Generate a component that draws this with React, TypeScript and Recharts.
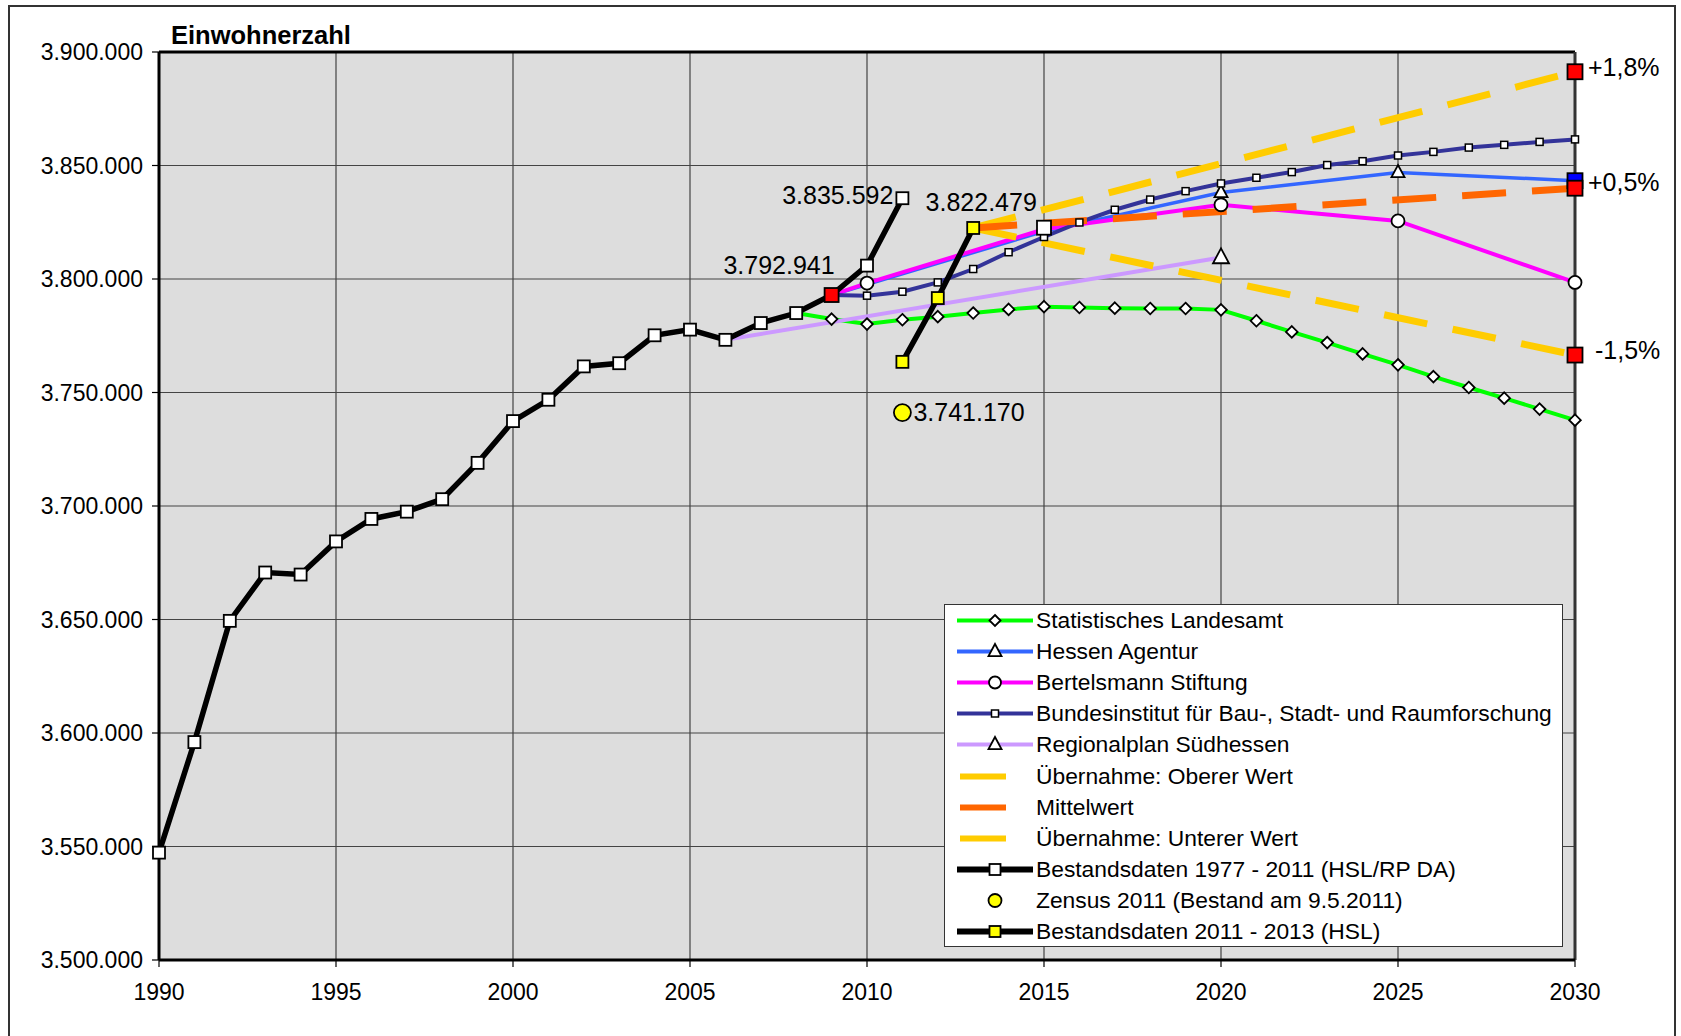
import React from "react"
import { LineChart, Line, XAxis, YAxis, CartesianGrid, ReferenceLine, Legend } from "recharts"

// Bestandsdaten 1977 - 2011 (HSL/RP DA), with the isolated 2015 square
const bestandYears = [1990, 1991, 1992, 1993, 1994, 1995, 1996, 1997, 1998, 1999, 2000, 2001, 2002, 2003, 2004, 2005, 2006, 2007, 2008, 2009, 2010, 2011, 2012, 2013, 2014, 2015]
const bestandValues = [3547300, 3596000, 3649400, 3670700, 3669800, 3684400, 3694300, 3697500, 3703000, 3719000, 3737400, 3746800, 3761500, 3762900, 3775200, 3777700, 3773200, 3780600, 3785000, 3792941, 3805900, 3835592, null, null, null, 3822600]

// Bestandsdaten 2011 - 2013 (HSL)
const hslYears = [2011, 2012, 2013]
const hslValues = [3763500, 3791600, 3822479]

// Zensus 2011
const zensusYears = [2011]
const zensusValues = [3741170]

// Statistisches Landesamt
const slYears = [2008, 2009, 2010, 2011, 2012, 2013, 2014, 2015, 2016, 2017, 2018, 2019, 2020, 2021, 2022, 2023, 2024, 2025, 2026, 2027, 2028, 2029, 2030]
const slValues = [3785000, 3782350, 3780150, 3782060, 3783400, 3785000, 3786600, 3787800, 3787450, 3787150, 3787000, 3787000, 3786400, 3781600, 3776700, 3772000, 3767000, 3762200, 3757000, 3752200, 3747500, 3742700, 3737800]

// Hessen Agentur
const haYears = [2009, 2015, 2020, 2025, 2030]
const haValues = [3792941, 3821000, 3838100, 3846900, 3843300]

// Bertelsmann Stiftung
const bsYears = [2009, 2010, 2015, 2020, 2025, 2030]
const bsValues = [3792941, 3798200, 3821900, 3832700, 3825600, 3798500]

// Bundesinstitut für Bau-, Stadt- und Raumforschung
const bbsrYears = [2009, 2010, 2011, 2012, 2013, 2014, 2015, 2016, 2017, 2018, 2019, 2020, 2021, 2022, 2023, 2024, 2025, 2026, 2027, 2028, 2029, 2030]
const bbsrValues = [3792941, 3792650, 3794400, 3798500, 3804400, 3811800, 3818500, 3824900, 3830500, 3835000, 3838700, 3842100, 3844600, 3847100, 3850200, 3851900, 3854400, 3856000, 3857900, 3859100, 3860400, 3861500]

// Regionalplan Südhessen
const rpYears = [2006, 2020]
const rpValues = [3773200, 3809500]

// Übernahme / Mittelwert
const trendYears = [2013, 2030]
const upperValues = [3822479, 3891300]
const meanValues = [3822479, 3840000]
const lowerValues = [3822479, 3766500]
const trendLabels = ["+1,8%", "+0,5%", "-1,5%"]

const xTicks = [1990, 1995, 2000, 2005, 2010, 2015, 2020, 2025, 2030]
const yTicks = [3500000, 3550000, 3600000, 3650000, 3700000, 3750000, 3800000, 3850000, 3900000]

const FONT = '"Liberation Sans", Arial, Helvetica, sans-serif'
const GREEN = "#00ff00"
const BLUE = "#3366ff"
const PINK = "#ff00ff"
const NAVY = "#333399"
const LILAC = "#cc99ff"
const GOLD = "#ffcc00"
const ORANGE = "#ff6600"

const rows = (years: number[], values: (number | null)[]) =>
  years.map((year, i) => ({ year, value: values[i] }))

const fmt = (v: number) => String(v).replace(/\B(?=(\d{3})+(?!\d))/g, ".")

// marker shapes
const square = (cx: number, cy: number, size: number, fill: string, sw = 1.8) => (
  <rect x={cx - size / 2} y={cy - size / 2} width={size} height={size} fill={fill} stroke="#000" strokeWidth={sw} />
)
const diamond = (cx: number, cy: number, h: number) => (
  <polygon points={`${cx},${cy - h} ${cx + h},${cy} ${cx},${cy + h} ${cx - h},${cy}`} fill="#fff" stroke="#000" strokeWidth={1.8} />
)
const triangle = (cx: number, cy: number, h: number) => (
  <polygon points={`${cx},${cy - h} ${cx + h},${cy + h * 0.85} ${cx - h},${cy + h * 0.85}`} fill="#fff" stroke="#000" strokeWidth={1.8} />
)
const circle = (cx: number, cy: number, r: number, fill = "#fff") => (
  <circle cx={cx} cy={cy} r={r} fill={fill} stroke="#000" strokeWidth={1.8} />
)
const note = (x: number, y: number, text: string, anchor: string, size = 25) => (
  <text x={x} y={y} dy="0.35em" textAnchor={anchor} fontSize={size} fontFamily={FONT} fill="#000">{text}</text>
)

// builds a dot renderer from a per-point drawing function
const dots = (draw: (cx: number, cy: number, p: any) => React.ReactNode) => (props: any) => {
  const { cx, cy, index, payload } = props
  if (cx == null || cy == null || payload == null || payload.value == null)
    return <g key={`d${index}`} />
  return <g key={`d${index}`}>{draw(cx, cy, payload)}</g>
}

const endDot = (label: string, dx: number, dy: number) =>
  dots((cx, cy, p) =>
    p.year === 2030 ? (
      <>
        {square(cx, cy, 15, "#ff0000")}
        {note(cx + dx, cy + dy, label, "start")}
      </>
    ) : null
  )

const legendItems = [
  { name: "Statistisches Landesamt", color: GREEN, width: 4, mark: "diamond" },
  { name: "Hessen Agentur", color: BLUE, width: 4, mark: "triangle" },
  { name: "Bertelsmann Stiftung", color: PINK, width: 4, mark: "circle" },
  { name: "Bundesinstitut für Bau-, Stadt- und Raumforschung", color: NAVY, width: 4, mark: "small" },
  { name: "Regionalplan Südhessen", color: LILAC, width: 4, mark: "triangle" },
  { name: "Übernahme: Oberer Wert", color: GOLD, width: 6, mark: "dash" },
  { name: "Mittelwert", color: ORANGE, width: 6, mark: "dash" },
  { name: "Übernahme: Unterer Wert", color: GOLD, width: 6, mark: "dash" },
  { name: "Bestandsdaten 1977 - 2011 (HSL/RP DA)", color: "#000", width: 6, mark: "square" },
  { name: "Zensus 2011 (Bestand am 9.5.2011)", color: "none", width: 0, mark: "yellowCircle" },
  { name: "Bestandsdaten 2011 - 2013 (HSL)", color: "#000", width: 6, mark: "yellowSquare" },
]

const LegendIcon = ({ item }: any) => {
  const c = 15.5
  let m: React.ReactNode = null
  if (item.mark === "diamond") m = diamond(50, c, 5.5)
  if (item.mark === "triangle") m = triangle(50, c - 1, 6.5)
  if (item.mark === "circle") m = circle(50, c, 6)
  if (item.mark === "small") m = square(50, c, 7, "#fff", 1.5)
  if (item.mark === "square") m = square(50, c, 11, "#fff")
  if (item.mark === "yellowSquare") m = square(50, c, 11, "#ffff00")
  if (item.mark === "yellowCircle") m = circle(50, c, 6.5, "#ffff00")
  return (
    <svg width={91} height={31} style={{ display: "block", flex: "none" }}>
      {item.mark === "dash" ? (
        <line x1={15} x2={61} y1={c} y2={c} stroke={item.color} strokeWidth={item.width} />
      ) : item.width > 0 ? (
        <line x1={12} x2={88} y1={c} y2={c} stroke={item.color} strokeWidth={item.width} />
      ) : null}
      {m}
    </svg>
  )
}

const LegendBox = () => (
  <div style={{ position: "relative", width: 619, height: 343, boxSizing: "border-box", border: "1.5px solid #333", background: "#fff", fontFamily: FONT, fontSize: 22.8, color: "#000" }}>
    {legendItems.map((item, i) => (
      <div key={item.name} style={{ position: "absolute", left: 0, top: 0 + 31.1 * i, height: 31, display: "flex", alignItems: "center", whiteSpace: "nowrap" }}>
        <LegendIcon item={item} />
        <span>{item.name}</span>
      </div>
    ))}
  </div>
)

export default function App() {
  return (
    <div style={{ position: "fixed", left: 0, top: 0, width: 1681, height: 1036, overflow: "hidden", background: "#fff", fontFamily: FONT }}>
      <div style={{ position: "absolute", left: 8, top: 5, width: 1668, height: 1100, boxSizing: "border-box", border: "2px solid #333" }} />
      <div style={{ position: "absolute", left: 171, top: 20, fontSize: 25.5, fontWeight: "bold", lineHeight: "30px" }}>Einwohnerzahl</div>
      <div style={{ position: "absolute", left: 0, top: 0 }}>
        <LineChart width={1681} height={1036} margin={{ top: 52, right: 106, bottom: 0, left: 0 }}>
          <CartesianGrid fill="#dddddd" fillOpacity={1} stroke="#444" strokeWidth={1.2} />
          <XAxis
            dataKey="year"
            type="number"
            domain={[1990, 2030]}
            ticks={xTicks}
            height={76}
            tickSize={7}
            tickMargin={17}
            axisLine={{ stroke: "#000", strokeWidth: 3 }}
            tickLine={{ stroke: "#000", strokeWidth: 1.2 }}
            tick={{ fill: "#000", fontSize: 23, fontFamily: FONT }}
          />
          <YAxis
            type="number"
            domain={[3500000, 3900000]}
            ticks={yTicks}
            width={159}
            tickSize={7}
            tickMargin={9}
            tickFormatter={fmt}
            axisLine={{ stroke: "#000", strokeWidth: 3 }}
            tickLine={{ stroke: "#000", strokeWidth: 1.2 }}
            tick={{ fill: "#000", fontSize: 23, fontFamily: FONT }}
          />
          <ReferenceLine y={3900000} stroke="#000" strokeWidth={3} />
          <ReferenceLine x={2030} stroke="#333" strokeWidth={3} />
          <Legend layout="vertical" align="center" verticalAlign="middle" wrapperStyle={{ left: 944, top: 604, width: 619, height: 343 }} content={() => <LegendBox />} />

          <Line data={rows(slYears, slValues)} dataKey="value" name="Statistisches Landesamt" stroke={GREEN} strokeWidth={4} isAnimationActive={false}
            dot={dots((cx, cy, p) => (p.year === 2008 ? null : diamond(cx, cy, 5.8)))} />
          <Line data={rows(rpYears, rpValues)} dataKey="value" name="Regionalplan Südhessen" stroke={LILAC} strokeWidth={4} isAnimationActive={false}
            dot={dots((cx, cy, p) => (p.year === 2020 ? triangle(cx, cy - 1, 8) : null))} />
          <Line data={rows(haYears, haValues)} dataKey="value" name="Hessen Agentur" stroke={BLUE} strokeWidth={3.5} isAnimationActive={false}
            dot={dots((cx, cy, p) =>
              p.year === 2030 ? square(cx, cy, 15, "#0000ff") : p.year >= 2020 ? triangle(cx, cy - 1, 6.5) : null
            )} />
          <Line data={rows(bsYears, bsValues)} dataKey="value" name="Bertelsmann Stiftung" stroke={PINK} strokeWidth={4} isAnimationActive={false}
            dot={dots((cx, cy, p) => (p.year === 2009 || p.year === 2015 ? null : circle(cx, cy, 6.5)))} />
          <Line data={rows(bbsrYears, bbsrValues)} dataKey="value" name="Bundesinstitut für Bau-, Stadt- und Raumforschung" stroke={NAVY} strokeWidth={4} isAnimationActive={false}
            dot={dots((cx, cy, p) => (p.year === 2009 ? null : square(cx, cy, 7, "#fff", 1.5)))} />
          <Line data={rows(trendYears, upperValues)} dataKey="value" name="Übernahme: Oberer Wert" stroke={GOLD} strokeWidth={7} strokeDasharray="44 26" isAnimationActive={false}
            dot={endDot(trendLabels[0], 13, -4)} />
          <Line data={rows(trendYears, lowerValues)} dataKey="value" name="Übernahme: Unterer Wert" stroke={GOLD} strokeWidth={7} strokeDasharray="44 26" isAnimationActive={false}
            dot={endDot(trendLabels[2], 20, -5)} />
          <Line data={rows(trendYears, meanValues)} dataKey="value" name="Mittelwert" stroke={ORANGE} strokeWidth={7} strokeDasharray="44 26" isAnimationActive={false}
            dot={endDot(trendLabels[1], 13, -6)} />
          <Line data={rows(bestandYears, bestandValues)} dataKey="value" name="Bestandsdaten 1977 - 2011 (HSL/RP DA)" stroke="#000" strokeWidth={5.5} isAnimationActive={false}
            dot={dots((cx, cy, p) => {
              if (p.year === 2009)
                return (
                  <>
                    {square(cx, cy, 14, "#ff0000")}
                    {note(cx + 3, cy - 30, fmt(p.value), "end")}
                  </>
                )
              if (p.year === 2011)
                return (
                  <>
                    {square(cx, cy, 12, "#fff")}
                    {note(cx - 9, cy - 3, fmt(p.value), "end")}
                  </>
                )
              if (p.year === 2015) return square(cx, cy, 14, "#fff")
              return square(cx, cy, 12, "#fff")
            })} />
          <Line data={rows(hslYears, hslValues)} dataKey="value" name="Bestandsdaten 2011 - 2013 (HSL)" stroke="#000" strokeWidth={5.5} isAnimationActive={false}
            dot={dots((cx, cy, p) => (
              <>
                {square(cx, cy, 12, "#ffff00")}
                {p.year === 2013 ? note(cx + 8, cy - 26, fmt(p.value), "middle") : null}
              </>
            ))} />
          <Line data={rows(zensusYears, zensusValues)} dataKey="value" name="Zensus 2011 (Bestand am 9.5.2011)" stroke="none" isAnimationActive={false}
            dot={dots((cx, cy, p) => (
              <>
                {circle(cx, cy, 8.5, "#ffff00")}
                {note(cx + 11, cy, fmt(p.value), "start")}
              </>
            ))} />
        </LineChart>
      </div>
    </div>
  )
}
